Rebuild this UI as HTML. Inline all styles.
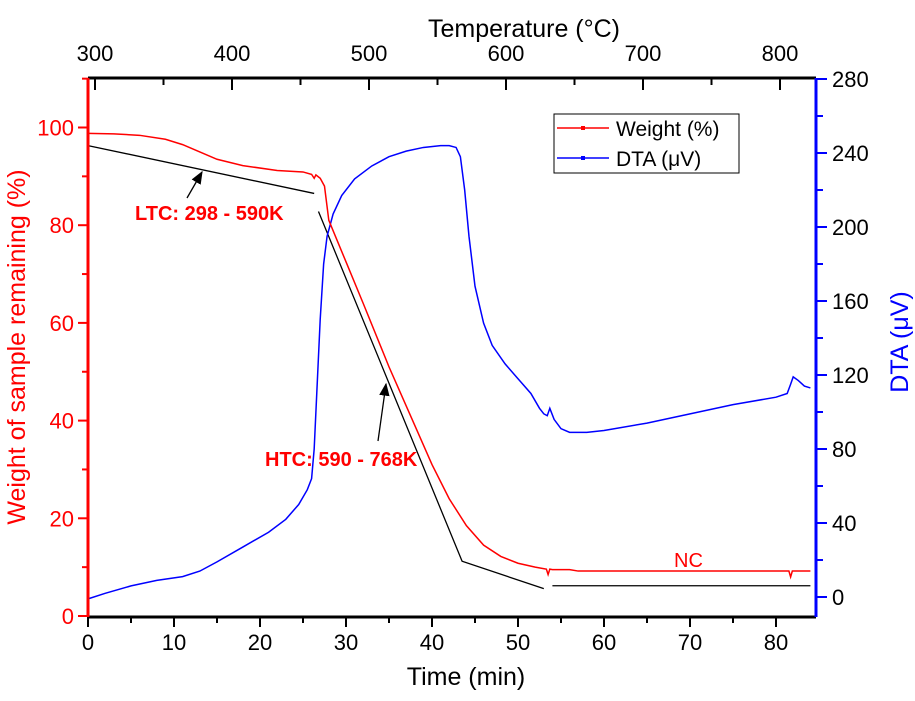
<!DOCTYPE html>
<html><head><meta charset="utf-8"><style>
html,body{margin:0;padding:0;background:#fff;}
svg{display:block;font-family:"Liberation Sans",Arial,sans-serif;}
</style></head><body>
<svg id="chart" width="915" height="701" viewBox="0 0 915 701"></svg>
<script>
const timeTicks=[0,10,20,30,40,50,60,70,80];
const tempTicks=[300,400,500,600,700,800];
const weightTicks=[0,20,40,60,80,100];
const dtaTicks=[0,40,80,120,160,200,240,280];
const weightT=[0,3,6,9,11,13,15,18,22,25,26,26.3,26.5,27,27.5,28,30,32,35,38,40,42,44,46,48,50,52,53.3,53.5,53.7,54,56,57,80,81.5,81.7,81.9,82.2,84];
const weightV=[98.8,98.7,98.4,97.6,96.5,95,93.5,92.2,91.2,90.9,90.4,89.6,90.3,89.6,88,81,72.5,64,51,39,31,24,18.5,14.5,12.2,10.8,10,9.6,8.5,9.6,9.5,9.5,9.2,9.2,9.2,8,9.2,9.2,9.2];
const dtaT=[0,2,5,8,11,13,15,18,21,23,24.5,25.5,26,26.3,26.6,27,27.4,27.8,28.5,29.5,31,33,35,37,39,41,42,42.8,43.3,43.8,44.3,45,46,47,48.5,50,51.5,52.5,53,53.4,53.7,54.2,55,56,58,60,65,70,75,80,81.3,81.7,82,82.6,83.3,84];
const dtaV=[-1,2,6,9,11,14,19,27,35,42,50,58,64,80,110,150,180,195,207,217,226,233,238,241,243,244,244,243,238,220,195,168,148,136,126,118,110,102,99,98,102,96,91,89,89,90,94,99,104,108,110,115,119,117,114,113];
const tangentT=[[0,26.3],[26.8,43.5,53],[54,84]];
const tangentV=[[96.3,86.5],[82.8,11.2,5.6],[6.2,6.2]];

const NS="http://www.w3.org/2000/svg";
const svg=document.getElementById('chart');
const L=88,R=816,T=78,B=617;
const X=t=>L+t*8.6;
const XT=c=>95+(c-300)*1.37;
const YL=w=>616-w*4.885;
const YR=v=>597-v*1.85;
function mk(tag,attrs,parent){const e=document.createElementNS(NS,tag);for(const k in attrs)e.setAttribute(k,attrs[k]);(parent||svg).appendChild(e);return e;}
function txt(s,attrs,parent){const e=mk('text',attrs,parent);e.textContent=s;return e;}

const tg=mk('g',{});


tangentT.forEach((ts,i)=>{
  const p=mk('polyline',{points:ts.map((t,j)=>X(t)+','+YL(tangentV[i][j])).join(' '),fill:'none',stroke:'#000','stroke-width':1.3},tg);
  
  
});
const dl=mk('polyline',{points:dtaT.map((t,i)=>X(t)+','+YR(dtaV[i])).join(' '),fill:'none',stroke:'#0000ff','stroke-width':1.5});


const wl=mk('polyline',{points:weightT.map((t,i)=>X(t)+','+YL(weightV[i])).join(' '),fill:'none',stroke:'#ff0000','stroke-width':1.5});



const ax=mk('g',{});


mk('line',{x1:L,y1:B,x2:R,y2:B,stroke:'#000','stroke-width':3},ax);
mk('line',{x1:L,y1:T,x2:R,y2:T,stroke:'#000','stroke-width':3},ax);
mk('line',{x1:L,y1:T,x2:L,y2:B,stroke:'#ff0000','stroke-width':3},ax);
mk('line',{x1:R,y1:T,x2:R,y2:B,stroke:'#0000ff','stroke-width':3},ax);
for(let t=0;t<=84;t+=5){const maj=t%10===0;mk('line',{x1:X(t),y1:B,x2:X(t),y2:B+(maj?10:6),stroke:'#000','stroke-width':2},ax);}
timeTicks.forEach(t=>{const e=txt(t,{x:X(t),y:B+33,'font-size':22,'text-anchor':'middle',fill:'#000'},ax);});
for(let c=300;c<=827;c+=50){const maj=c%100===0;mk('line',{x1:XT(c),y1:T,x2:XT(c),y2:T+(maj?12:7),stroke:'#000','stroke-width':2},ax);}
tempTicks.forEach(c=>{const e=txt(c,{x:XT(c),y:T-17,'font-size':22,'text-anchor':'middle',fill:'#000'},ax);});
for(let w=0;w<=110;w+=10){const maj=w%20===0;mk('line',{x1:L,y1:YL(w),x2:L-(maj?10:6),y2:YL(w),stroke:'#ff0000','stroke-width':2},ax);}
weightTicks.forEach(w=>{const e=txt(w,{x:L-14,y:YL(w)+8,'font-size':22,'text-anchor':'end',fill:'#ff0000'},ax);});
for(let v=0;v<=280;v+=20){const maj=v%40===0;mk('line',{x1:R,y1:YR(v),x2:R+(maj?11:7),y2:YR(v),stroke:'#0000ff','stroke-width':2},ax);}
dtaTicks.forEach(v=>{const e=txt(v,{x:R+16,y:YR(v)+8,'font-size':22,'text-anchor':'start',fill:'#000'},ax);});
</script>
<svg width="915" height="701" style="position:absolute;left:0;top:0;font-family:'Liberation Sans',Arial,sans-serif">
<defs><marker id="ah" markerWidth="10" markerHeight="10" refX="9" refY="5" orient="auto"><path d="M0,1 L10,5 L0,9 z" fill="#000"/></marker></defs>
<text x="524" y="37" font-size="25" text-anchor="middle">Temperature (°C)</text>
<text x="466" y="685" font-size="25" text-anchor="middle">Time (min)</text>
<text transform="translate(25,347) rotate(-90)" font-size="25" text-anchor="middle" fill="#ff0000">Weight of sample remaining (%)</text>
<text transform="translate(908,342) rotate(-90)" font-size="25" text-anchor="middle" fill="#0000ff">DTA (μV)</text>
<line x1="187" y1="198" x2="202" y2="172" stroke="#000" stroke-width="1.3" marker-end="url(#ah)"/>
<text x="135" y="220" font-size="20" font-weight="bold" fill="#ff0000">LTC: 298 - 590K</text>
<line x1="378" y1="441" x2="386" y2="384" stroke="#000" stroke-width="1.3" marker-end="url(#ah)"/>
<text x="265" y="466" font-size="20" font-weight="bold" fill="#ff0000">HTC: 590 - 768K</text>
<text x="674" y="567" font-size="20" fill="#ff0000">NC</text>
<g>
<rect x="554" y="114" width="185" height="59" fill="#fff" stroke="#000" stroke-width="1"/>
<line x1="557" y1="128" x2="609" y2="128" stroke="#ff0000" stroke-width="1.5"/><rect x="581" y="126" width="4" height="4" fill="#ff0000"/>
<text x="616" y="136" font-size="21">Weight (%)</text>
<line x1="557" y1="158" x2="609" y2="158" stroke="#0000ff" stroke-width="1.5"/><rect x="581" y="156" width="4" height="4" fill="#0000ff"/>
<text x="616" y="166" font-size="21">DTA (μV)</text>
</g>
</svg>
</body></html>
